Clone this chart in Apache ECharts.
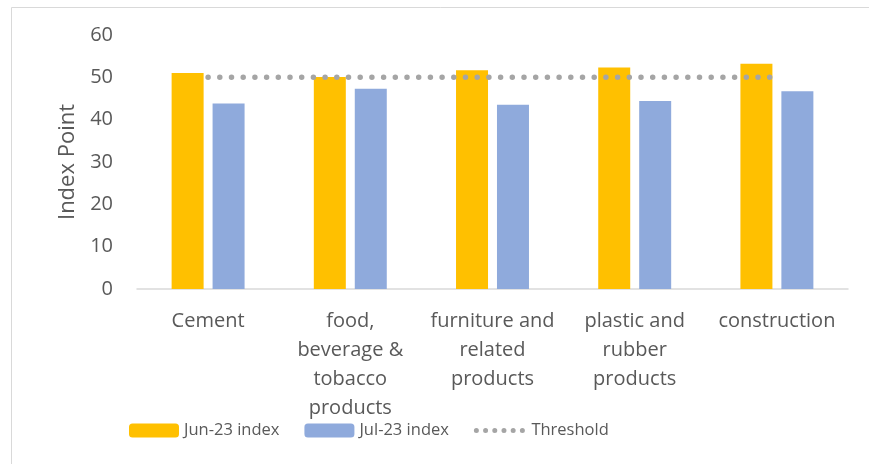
<!DOCTYPE html>
<html><head><meta charset="utf-8">
<script src="https://cdn.jsdelivr.net/npm/echarts@6/dist/echarts.min.js"></script>
<style>html,body{margin:0;padding:0;background:#fff}#c{width:869px;height:464px}</style>
</head><body><div id="c"></div>
<script>
var categories = ["Cement", "food,\nbeverage &\ntobacco\nproducts", "furniture and\nrelated\nproducts", "plastic and\nrubber\nproducts", "construction"];
var jun23 = [51.0, 50.1, 51.7, 52.3, 53.2];
var jul23 = [43.8, 47.3, 43.5, 44.4, 46.7];
var threshold = [50, 50, 50, 50, 50];
var yTicks = [0, 10, 20, 30, 40, 50, 60];

var FONT = "Open Sans";
var TXT = "#595959";
var chart = echarts.init(document.getElementById('c'), null, {renderer: 'canvas'});
chart.setOption({
  animation: false,
  backgroundColor: '#fff',
  textStyle: {fontFamily: FONT},
  graphic: [{type: 'rect', shape: {x: 11.5, y: 7.5, width: 900, height: 500}, style: {fill: 'none', stroke: '#D9D9D9', lineWidth: 1}}],
  grid: {left: 137, right: 21, top: 35, bottom: 175, containLabel: false},
  legend: {
    left: 124, top: 417, itemWidth: 50, itemHeight: 14, itemGap: 25,
    textStyle: {color: TXT, fontSize: 16.5, fontFamily: FONT},
    data: [
      {name: 'Jun-23 index'},
      {name: 'Jul-23 index'},
      {name: 'Threshold', lineStyle: {width: 5, type: [0, 9.2], cap: 'round', color: '#A5A5A5'}, itemStyle: {color: 'rgba(0,0,0,0)', borderWidth: 0}}
    ]
  },
  xAxis: {
    type: 'category', data: categories,
    axisLine: {lineStyle: {color: '#D9D9D9', width: 1.5}},
    axisTick: {show: false},
    axisLabel: {color: TXT, fontSize: 20, fontFamily: FONT, lineHeight: 29, margin: 18, interval: 0}
  },
  yAxis: {
    type: 'value', min: yTicks[0], max: yTicks[yTicks.length - 1], interval: 10,
    name: 'Index Point', nameLocation: 'middle', nameGap: 57,
    nameTextStyle: {color: TXT, fontSize: 22, fontFamily: FONT},
    axisLine: {show: false}, axisTick: {show: false},
    splitLine: {show: false},
    axisLabel: {color: TXT, fontSize: 20, fontFamily: FONT, margin: 24}
  },
  series: [
    {name: 'Jun-23 index', type: 'bar', data: jun23, barWidth: 32, barGap: '28%', itemStyle: {color: '#FFC000'}},
    {name: 'Jul-23 index', type: 'bar', data: jul23, barWidth: 32, barGap: '28%', itemStyle: {color: '#8FAADC'}},
    {name: 'Threshold', type: 'line', data: threshold, symbol: 'none',
     lineStyle: {color: '#A5A5A5', width: 5.5, type: [0, 11.7], cap: 'round'},
     itemStyle: {color: 'rgba(0,0,0,0)', borderWidth: 0}}
  ]
});
</script></body></html>
